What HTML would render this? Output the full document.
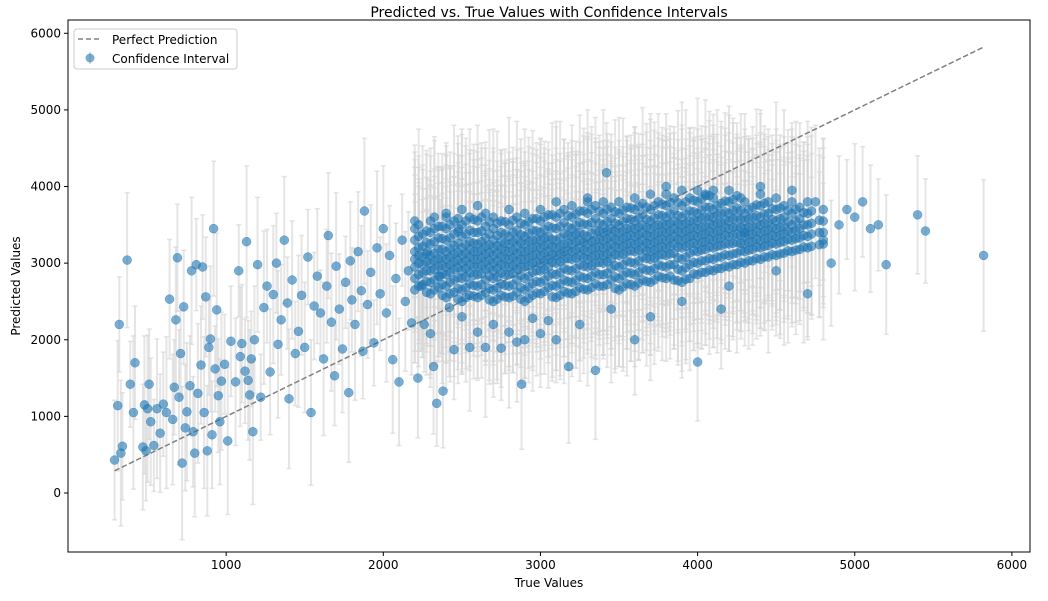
<!DOCTYPE html>
<html><head><meta charset="utf-8"><style>
body{margin:0;background:#fff;}
svg text{font-family:"DejaVu Sans","Liberation Sans",sans-serif;}
</style></head><body>
<svg id="chart" width="1048" height="596">
<rect width="1048" height="596" fill="#fff"/>
<text x="549" y="17" text-anchor="middle" font-size="14">Predicted vs. True Values with Confidence Intervals</text>
<g id="errs"></g><g id="line"></g><g id="pts"></g>
<rect x="68" y="20" width="962" height="532" fill="none" stroke="#000" stroke-width="1"/>
<g id="xt"></g><g id="yt"></g>
<text x="549" y="587" text-anchor="middle" font-size="12">True Values</text>
<text x="20" y="286" text-anchor="middle" font-size="12" transform="rotate(-90 20 286)">Predicted Values</text>
<g>
<rect x="74" y="29" width="163" height="40" rx="3" fill="#fff" fill-opacity="0.8" stroke="#ccc"/>
<line x1="78" y1="39" x2="102" y2="39" stroke="#808080" stroke-width="1.5" stroke-dasharray="5,3"/>
<text x="112" y="44" font-size="12">Perfect Prediction</text>
<line x1="90" y1="52" x2="90" y2="64" stroke="#d3d3d3" stroke-width="1.5"/>
<circle cx="90" cy="58" r="4.5" fill="#1f77b4" fill-opacity="0.6"/>
<text x="112" y="63" font-size="12">Confidence Interval</text>
</g>
</svg>
<script>
const sparseTrue=[290,310,320,330,340,370,390,410,420,470,480,490,500,510,520,540,560,580,600,620,640,660,670,680,690,700,710,720,730,740,750,770,780,790,800,810,820,840,850,860,870,880,890,900,910,920,930,940,950,960,970,990,1010,1030,1060,1080,1090,1100,1120,1130,1140,1150,1160,1170,1180,1200,1220,1240,1260,1280,1300,1320,1330,1350,1370,1390,1400,1420,1440,1460,1480,1500,1520,1540,1560,1580,1600,1620,1640,1650,1670,1690,1700,1720,1740,1760,1780,1790,1800,1820,1840,1860,1870,1880,1900,1920,1940,1960,1980,2000,2020,2040,2060,2080,2100,2120,2140,2160,2180,2200,2220,2240,2260,2280,2300,2320,2340,2360,2380,2400,2420,2450,2480,2500,2550,2600,2650,2700,2750,2800,2850,2880,2900,2950,3000,3050,3100,3180,3250,3300,3350,3420,3450,3600,3700,3800,3900,4000,4050,4100,4150,4200,4300,4400,4500,4600,4700,4750,4800,4850,4900,4950,5000,5050,5100,5150,5200,5400,5450,5820];
const sparsePred=[430,1140,2200,520,610,3040,1420,1050,1700,600,1150,550,1100,1420,930,620,1100,780,1160,1050,2530,960,1380,2260,3070,1250,1820,390,2430,850,1060,1400,2900,800,520,2980,1300,1670,2950,1050,2560,550,1900,2010,760,3450,1620,2390,1270,930,1460,1680,680,1980,1450,2900,1780,1950,1590,3280,1470,1280,1750,800,2000,2980,1250,2420,2700,1580,2590,3000,1940,2260,3300,2480,1230,2780,1820,2110,2580,1900,3080,1050,2440,2830,2350,1750,2700,3360,2230,1530,2960,2400,1880,2750,1310,3030,2520,2200,3150,2640,1850,3680,2460,2880,1960,3200,2600,3450,2350,3100,1740,2800,1450,3300,2500,2900,2220,3550,1500,2700,2200,3150,2080,1650,1170,2830,1330,3600,2420,1870,3450,2300,1900,2100,1900,2200,1890,2100,1970,1420,2000,2280,2080,2250,2000,1650,2200,3800,1600,4180,2400,2000,2300,4000,2500,1710,3900,3950,2400,2700,3400,4000,2900,3950,2600,3800,3300,3000,3500,3700,3600,3800,3450,3500,2980,3630,3420,3100];
const clusterTrue=[2200,2300,2400,2500,2600,2700,2800,2900,3000,3100,3200,3300,3400,3500,3600,3700,3800,3900,4000,4100,4200,4300,4400,4500,4600,4700,4800,
2250,2350,2450,2550,2650,2750,2850,2950,3050,3150,3250,3350,3450,3550,3650,3750,3850,3950,4050,4150,4250,4350,4450,4550,4650,
2225,2325,2425,2525,2625,2725,2825,2925,3025,3125,3225,3325,3425,3525,3625,3725,3825,3925,4025,4125,4225,4325,4425,4525,4625,4725,
2275,2375,2475,2575,2675,2775,2875,2975,3075,3175,3275,3375,3475,3575,3675,3775,3875,3975,4075,4175,4275,4375,4475,4575,4675,4775];
const clusterPred=[
[2650,2800,2950,3050,3150,3300,3450],[2600,2750,2900,3000,3100,3250,3400,3550],[2550,2700,2850,2950,3050,3150,3300,3450,3650],[2500,2650,2800,2900,3000,3100,3200,3350,3500,3700],[2550,2700,2850,2950,3050,3150,3250,3400,3550,3750],[2500,2650,2800,2900,3000,3100,3200,3300,3450,3600],[2550,2700,2850,2950,3050,3150,3250,3350,3500,3700],[2500,2650,2800,2950,3050,3150,3250,3350,3500,3650],[2600,2750,2900,3000,3100,3200,3300,3400,3550,3700],[2550,2700,2850,3000,3100,3200,3300,3450,3600,3800],[2600,2750,2900,3050,3150,3250,3350,3450,3600,3750],[2650,2800,2950,3050,3150,3250,3350,3500,3650,3850],[2700,2850,3000,3100,3200,3300,3400,3500,3650,3800],[2650,2800,2950,3100,3200,3300,3400,3500,3650,3800],[2700,2850,3000,3150,3250,3350,3450,3550,3700,3850],[2750,2900,3050,3150,3250,3350,3450,3550,3700,3900],[2800,2950,3100,3200,3300,3400,3500,3600,3750,3900],[2750,2900,3050,3200,3300,3400,3500,3600,3750,3950],[2850,3000,3150,3250,3350,3450,3550,3650,3800,3950],[2900,3050,3200,3300,3400,3500,3600,3700,3850],[2950,3100,3250,3350,3450,3550,3650,3800,3950],[3000,3150,3250,3350,3450,3550,3650,3800],[3050,3200,3300,3400,3500,3600,3750,3900],[3100,3250,3350,3450,3550,3700,3850],[3150,3300,3400,3500,3650,3800],[3200,3350,3500,3650,3800],[3250,3400,3550,3700],
[2720,2870,2980,3080,3220,3380],[2680,2830,2960,3060,3180,3330,3480],[2620,2780,2920,3020,3120,3230,3380,3550],[2580,2730,2870,2980,3080,3180,3280,3430,3600],[2620,2780,2920,3020,3120,3220,3330,3480,3650],[2580,2730,2870,2980,3080,3180,3280,3400,3550],[2620,2780,2920,3020,3120,3220,3320,3430,3600],[2580,2730,2880,3000,3100,3200,3300,3430,3580],[2680,2830,2950,3050,3150,3250,3350,3480,3630],[2630,2780,2930,3050,3150,3250,3380,3530,3700],[2680,2830,2980,3100,3200,3300,3400,3530,3680],[2730,2880,3000,3100,3200,3300,3430,3580,3750],[2780,2930,3050,3150,3250,3350,3450,3580,3730],[2730,2880,3030,3150,3250,3350,3450,3580,3730],[2780,2930,3080,3200,3300,3400,3500,3630,3780],[2830,2980,3100,3200,3300,3400,3500,3630,3800],[2780,2980,3130,3250,3350,3450,3550,3680,3850],[2800,2980,3130,3250,3350,3450,3550,3680,3850],[2880,3030,3180,3280,3380,3480,3600,3730,3880],[2930,3080,3230,3330,3430,3530,3650,3780],[2980,3130,3270,3380,3480,3600,3720,3880],[3030,3180,3280,3380,3480,3600,3730],[3080,3230,3330,3430,3530,3650,3800],[3130,3280,3380,3480,3600,3750],[3180,3330,3450,3580,3730],
[2700,2850,3000,3100,3200,3350,3500],[2650,2780,2920,3030,3130,3280,3450,3600],[2600,2750,2880,2980,3080,3190,3330,3500],[2550,2680,2820,2930,3030,3130,3240,3380,3550],[2580,2720,2860,2970,3070,3170,3280,3420,3600],[2530,2680,2820,2930,3030,3130,3230,3360,3520],[2570,2720,2870,2970,3070,3170,3280,3400,3560],[2540,2690,2830,2970,3070,3170,3280,3390,3540],[2630,2780,2920,3030,3130,3230,3330,3440,3600],[2580,2730,2880,3020,3120,3220,3330,3480,3650],[2630,2780,2930,3070,3170,3280,3380,3490,3640],[2680,2830,2970,3080,3180,3280,3390,3530,3700],[2720,2870,3020,3120,3220,3320,3420,3540,3700],[2690,2840,2980,3120,3220,3320,3420,3540,3690],[2740,2880,3030,3170,3270,3370,3470,3590,3740],[2780,2930,3070,3170,3270,3370,3480,3590,3750],[2830,2980,3120,3220,3320,3420,3520,3640,3790],[2790,2940,3080,3220,3320,3420,3520,3640,3800],[2880,3030,3170,3270,3370,3470,3580,3690,3840],[2930,3080,3220,3320,3420,3520,3630,3750],[2980,3120,3260,3370,3470,3580,3690,3830],[3030,3170,3270,3370,3470,3580,3700],[3080,3220,3320,3420,3520,3640,3780],[3120,3270,3370,3470,3580,3720],[3170,3320,3430,3550,3700],[3220,3380,3520,3680],
[2620,2760,2900,3020,3120,3270,3420],[2580,2720,2860,2970,3070,3180,3320,3480],[2530,2670,2810,2940,3040,3140,3260,3410,3580],[2570,2710,2840,2950,3050,3150,3260,3400,3570],[2520,2670,2830,2940,3040,3140,3240,3380,3540],[2560,2710,2850,2960,3060,3160,3260,3380,3540],[2530,2680,2840,2950,3050,3150,3260,3370,3520],[2610,2760,2900,3010,3110,3210,3310,3420,3580],[2560,2710,2860,3010,3110,3210,3310,3460,3630],[2610,2760,2910,3060,3160,3260,3360,3470,3620],[2660,2810,2960,3070,3170,3270,3370,3510,3680],[2700,2850,3010,3110,3210,3310,3410,3520,3680],[2670,2820,2970,3110,3210,3310,3410,3520,3670],[2720,2870,3010,3160,3260,3360,3460,3570,3720],[2760,2910,3060,3160,3260,3360,3460,3570,3730],[2810,2960,3110,3210,3310,3410,3510,3620,3770],[2770,2920,3070,3210,3310,3410,3510,3620,3790],[2860,3010,3160,3260,3360,3460,3560,3670,3820],[2910,3060,3210,3310,3410,3510,3610,3730,3880],[2960,3110,3250,3360,3460,3560,3670,3810],[3010,3160,3260,3360,3460,3570,3690,3850],[3060,3210,3310,3410,3510,3620,3760],[3110,3260,3360,3460,3570,3710],[3160,3310,3420,3540,3690],[3210,3360,3500,3660],[3240,3400,3560]];
const errorSizes=[780,850,620,950,700,880,560,1000,740,820,900,650,960,720,830,600,910,770,680,990];
const clusterErrors=[950,1100,850,1200,1000,1150,900,1050,1250,980,1080,920];
const lineStart=290, lineEnd=5820;
const xTicks=[1000,2000,3000,4000,5000,6000];
const yTicks=[0,1000,2000,3000,4000,5000,6000];
const X=v=>69+v*0.15715, Y=v=>493-v*0.07662;
const NS="http://www.w3.org/2000/svg";
function mk(t,a,p){const e=document.createElementNS(NS,t);for(const k in a)e.setAttribute(k,a[k]);p.appendChild(e);return e;}
const errs=document.getElementById('errs'),pts=document.getElementById('pts');
const all=[];
sparseTrue.forEach((x,i)=>all.push([x,sparsePred[i],errorSizes[i%errorSizes.length]]));
let k=0;
clusterTrue.forEach((x,i)=>clusterPred[i].forEach(y=>{all.push([x,y,clusterErrors[k%clusterErrors.length]]);k++;}));
all.forEach(([x,y,e])=>{
  const cx=X(x),y1=Y(y+e),y2=Y(y-e);
  const g=mk('g',{},errs);
  
  
  mk('line',{x1:cx,x2:cx,y1:y1,y2:y2,stroke:'#d3d3d3','stroke-width':2,'stroke-opacity':0.6},g);
  mk('line',{x1:cx-2.5,x2:cx+2.5,y1:y1,y2:y1,stroke:'#d3d3d3','stroke-width':1.5,'stroke-opacity':0.6},g);
  mk('line',{x1:cx-2.5,x2:cx+2.5,y1:y2,y2:y2,stroke:'#d3d3d3','stroke-width':1.5,'stroke-opacity':0.6},g);
});
const ln=mk('line',{x1:X(lineStart),y1:Y(lineStart),x2:X(lineEnd),y2:Y(lineEnd),stroke:'#808080','stroke-width':1.5,'stroke-dasharray':'5.5,2.5'},document.getElementById('line'));


all.forEach(([x,y])=>{
  const c=mk('circle',{cx:X(x),cy:Y(y),r:4.5,fill:'#1f77b4','fill-opacity':0.6,stroke:'#1f77b4','stroke-opacity':0.6,'stroke-width':0.5},pts);
  
  
});
const xt=document.getElementById('xt'),yt=document.getElementById('yt');
xTicks.forEach(v=>{
  mk('line',{x1:X(v),x2:X(v),y1:552,y2:556,stroke:'#000'},xt);
  const t=mk('text',{x:X(v),y:569,'text-anchor':'middle','font-size':12},xt);t.textContent=v;
  
  
});
yTicks.forEach(v=>{
  mk('line',{x1:64,x2:68,y1:Y(v),y2:Y(v),stroke:'#000'},yt);
  const t=mk('text',{x:61,y:Y(v)+4,'text-anchor':'end','font-size':12},yt);t.textContent=v;
  
  
});
</script>
</body></html>
